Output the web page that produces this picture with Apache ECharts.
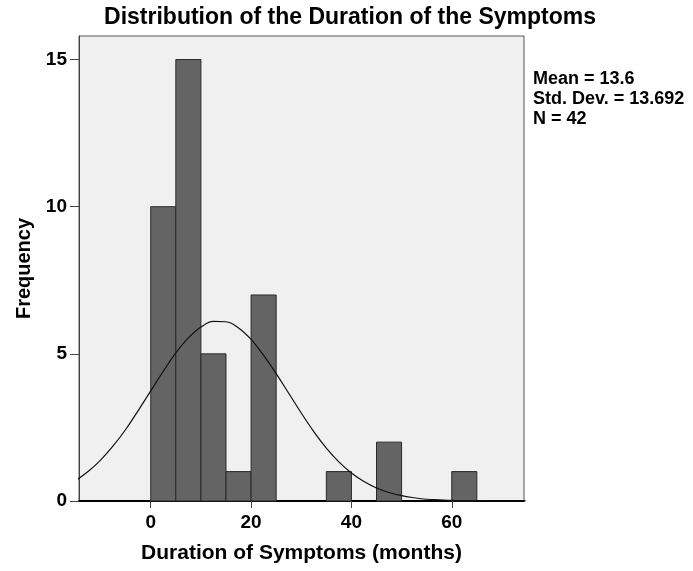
<!DOCTYPE html>
<html>
<head>
<meta charset="utf-8">
<script src="https://cdn.jsdelivr.net/npm/echarts@6/dist/echarts.min.js"></script>
<style>
  html, body { margin: 0; padding: 0; background: #fff; }
  #chart { width: 693px; height: 571px; }
</style>
</head>
<body>
<div id="chart"></div>
<script>
// histogram bins (months), width 5
var binStarts = [0, 5, 10, 15, 20, 35, 45, 60];
var binCounts = [10, 15, 5, 1, 7, 1, 2, 1];
var binWidth = 5;

// fitted normal curve
var curveX = [-15, -12.5, -10, -7.5, -5, -2.5, 0, 2.5, 5, 7.5, 10, 12.5, 15, 17.5, 20, 22.5, 25, 27.5, 30,
    32.5, 35, 37.5, 40, 42.5, 45, 47.5, 50, 52.5, 55, 57.5, 60, 62.5, 65, 67.5, 70, 75];
var curveY = [0.69, 1.0, 1.39, 1.87, 2.43, 3.07, 3.74, 4.41, 5.03, 5.54, 5.91, 6.1, 6.09, 5.88, 5.49, 4.95, 4.33, 3.66, 2.99,
    2.36, 1.8, 1.33, 0.95, 0.66, 0.44, 0.29, 0.18, 0.11, 0.06, 0.04, 0.02, 0.01, 0.01, 0, 0, 0];

var xTicks = [0, 20, 40, 60];
var yTicks = [0, 5, 10, 15];
var statsLines = ['Mean = 13.6', 'Std. Dev. = 13.692', 'N = 42'];

var chart = echarts.init(document.getElementById('chart'));

var bars = binStarts.map(function (s, i) {
    return [s, s + binWidth, binCounts[i]];
});
var curve = curveX.map(function (x, i) {
    return [x, curveY[i]];
});

var font = 'Arial, "Liberation Sans", sans-serif';

var option = {
    backgroundColor: '#fff',
    animation: false,
    title: {
        text: 'Distribution of the Duration of the Symptoms',
        left: 345,
        textAlign: 'center',
        top: 1,
        textStyle: { fontFamily: font, fontSize: 23, fontWeight: 'bold', color: '#000' }
    },
    graphic: [{
        type: 'text',
        left: 533,
        top: 69,
        style: {
            text: statsLines.join('\n'),
            font: 'bold 18px ' + font,
            lineHeight: 20,
            fill: '#000'
        }
    }],
    grid: {
        left: 79, right: 169, top: 36, bottom: 70,
        show: true,
        backgroundColor: '#f0f0f0',
        borderColor: '#555',
        borderWidth: 1
    },
    xAxis: {
        type: 'value',
        min: -14.3,
        max: 74.4,
        name: 'Duration of Symptoms (months)',
        nameLocation: 'middle',
        nameGap: 42,
        nameTextStyle: { fontFamily: font, fontSize: 21, fontWeight: 'bold', color: '#000' },
        axisLine: { show: true, lineStyle: { color: '#000', width: 2 } },
        axisTick: { show: true, customValues: xTicks, length: 7, lineStyle: { color: '#444' } },
        axisLabel: { customValues: xTicks, fontFamily: font, fontSize: 19, fontWeight: 'bold', color: '#000', margin: 12 },
        splitLine: { show: false }
    },
    yAxis: {
        type: 'value',
        min: 0,
        max: 15.8,
        name: 'Frequency',
        nameLocation: 'middle',
        nameGap: 42,
        nameTextStyle: { fontFamily: font, fontSize: 20, fontWeight: 'bold', color: '#000' },
        axisLine: { show: true, onZero: false, lineStyle: { color: '#444', width: 1 } },
        axisTick: { show: true, customValues: yTicks, length: 9, lineStyle: { color: '#444' } },
        axisLabel: { customValues: yTicks, fontFamily: font, fontSize: 19, fontWeight: 'bold', color: '#000', margin: 12 },
        splitLine: { show: false }
    },
    series: [{
        type: 'custom',
        data: bars,
        encode: { x: [0, 1], y: 2 },
        renderItem: function (params, api) {
            var p0 = api.coord([api.value(0), api.value(2)]);
            var p1 = api.coord([api.value(1), 0]);
            return {
                type: 'rect',
                shape: { x: p0[0], y: p0[1], width: p1[0] - p0[0], height: p1[1] - p0[1] },
                style: { fill: '#646464', stroke: '#2a2a2a', lineWidth: 1 }
            };
        },
        z: 2
    }, {
        type: 'line',
        data: curve,
        smooth: 0.4,
        showSymbol: false,
        clip: true,
        lineStyle: { color: '#111', width: 1.2 },
        z: 3
    }]
};

chart.setOption(option);
</script>
</body>
</html>
